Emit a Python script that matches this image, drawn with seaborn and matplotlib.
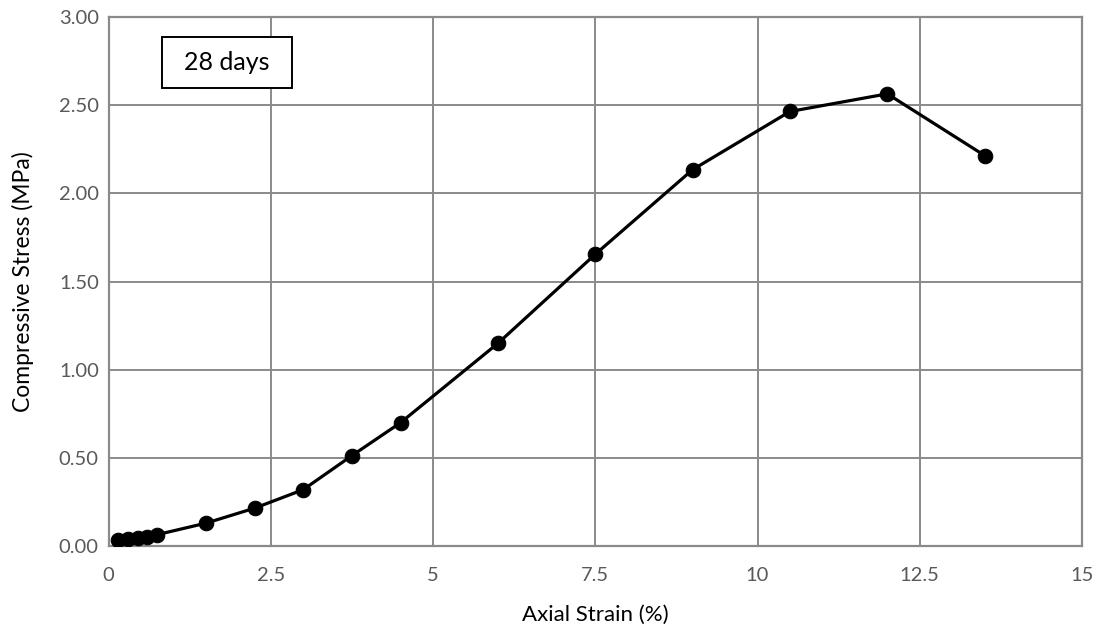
import matplotlib
matplotlib.use("Agg")
import matplotlib.pyplot as plt
from matplotlib.patches import Rectangle
import seaborn as sns
import pandas as pd

# Stress-strain readings for the 28-day specimen
strain = [0.15, 0.30, 0.45, 0.60, 0.75, 1.5, 2.25, 3.0, 3.75, 4.5, 6.0, 7.5, 9.0, 10.5, 12.0, 13.5]
stress = [0.035, 0.040, 0.045, 0.052, 0.065, 0.13, 0.215, 0.32, 0.513, 0.70, 1.15, 1.655, 2.135, 2.465, 2.565, 2.215]
x_ticks = [0, 2.5, 5, 7.5, 10, 12.5, 15]
x_tick_labels = ["0", "2.5", "5", "7.5", "10", "12.5", "15"]
y_ticks = [0.0, 0.5, 1.0, 1.5, 2.0, 2.5, 3.0]
y_tick_labels = ["0.00", "0.50", "1.00", "1.50", "2.00", "2.50", "3.00"]

sns.set_theme(style="white")
plt.rcParams["font.family"] = ["Lato", "DejaVu Sans"]

df = pd.DataFrame({"strain": strain, "stress": stress})

fig = plt.figure(figsize=(11.05, 6.35), dpi=100)
ax = fig.add_axes([0.0982, 0.140, 0.8810, 0.833])

sns.lineplot(data=df, x="strain", y="stress", ax=ax, sort=False,
             color="black", linewidth=2.3, marker="o", markersize=10.5,
             markeredgecolor="black", markerfacecolor="black", zorder=3)

grid_color = "#8a8a8a"
ax.set_xlim(0, 15)
ax.set_ylim(0, 3.0)
ax.set_xticks(x_ticks)
ax.set_xticklabels(x_tick_labels)
ax.set_yticks(y_ticks)
ax.set_yticklabels(y_tick_labels)
ax.grid(True, color=grid_color, linewidth=1.4)
ax.set_axisbelow(True)
for s in ax.spines.values():
    s.set_color(grid_color)
    s.set_linewidth(1.6)
ax.tick_params(axis="both", length=0, labelsize=14.5, labelcolor="#595959")
ax.tick_params(axis="x", pad=15)
ax.tick_params(axis="y", pad=7)

ax.set_xlabel("Axial Strain (%)", fontsize=16, color="black", labelpad=15)
ax.set_ylabel("Compressive Stress (MPa)", fontsize=16.5, color="black", labelpad=18)

# "28 days" annotation box
ax.add_patch(Rectangle((0.055, 0.866), 0.1335, 0.0964, transform=ax.transAxes,
                       facecolor="white", edgecolor="black", linewidth=1.4,
                       zorder=5))
ax.text(0.1215, 0.914, "28 days", transform=ax.transAxes, fontsize=18,
        color="black", ha="center", va="center", zorder=6)

fig.savefig("out.png", dpi=100)
